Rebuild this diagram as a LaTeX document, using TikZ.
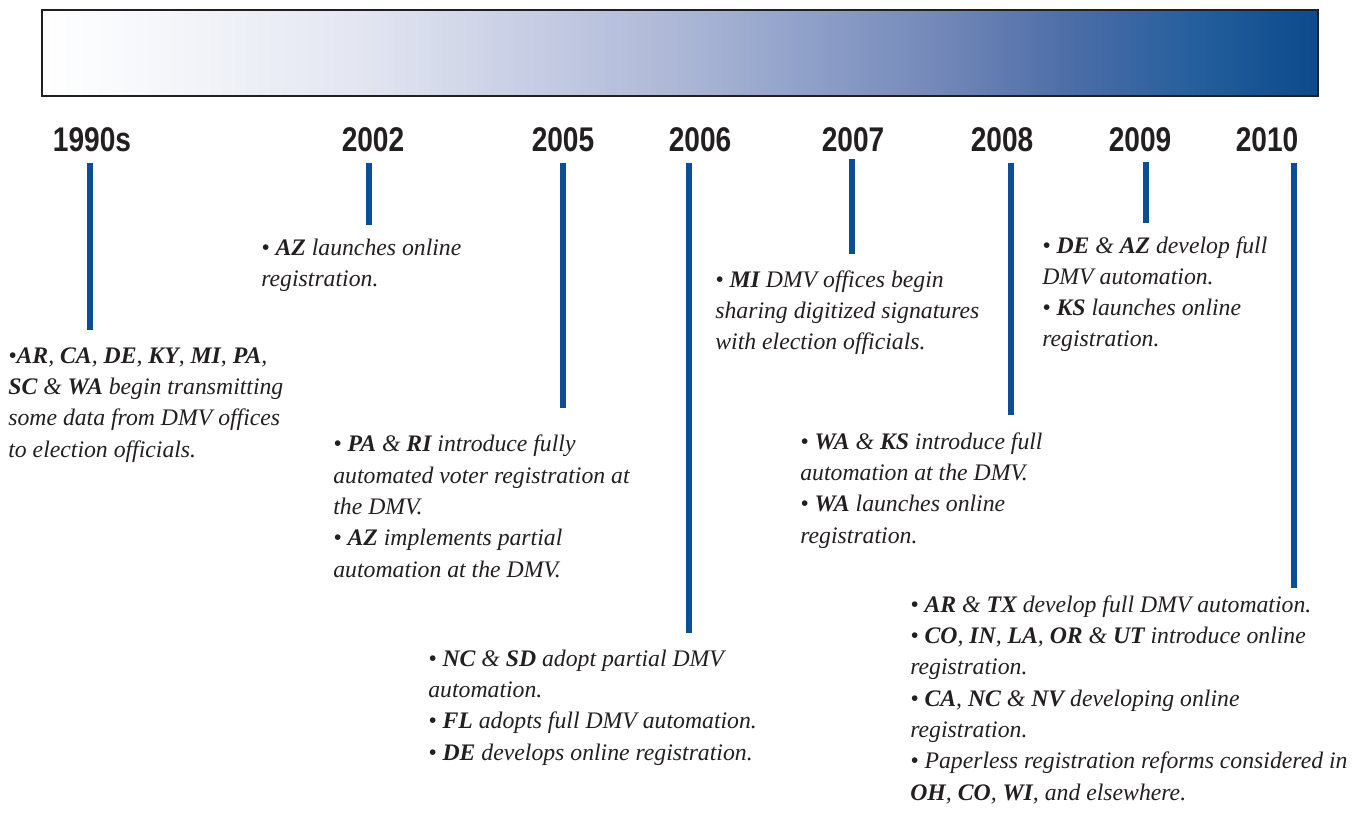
\documentclass[tikz,border=0pt]{standalone}
\usepackage{fontspec}
\setmainfont{Liberation Serif}
\newfontfamily\yearfont[FakeStretch=0.82]{Liberation Sans}
\usetikzlibrary{positioning}
\definecolor{barblue}{RGB}{11,74,140}
\definecolor{barA}{RGB}{250,251,253}
\definecolor{barB}{RGB}{227,230,241}
\definecolor{barC}{RGB}{195,202,226}
\definecolor{barD}{RGB}{172,183,214}
\definecolor{barE}{RGB}{143,160,201}
\definecolor{barF}{RGB}{116,137,185}
\definecolor{barG}{RGB}{79,110,168}
\definecolor{barH}{RGB}{38,95,157}
\definecolor{tickblue}{RGB}{10,78,152}
\definecolor{inkgray}{RGB}{35,31,32}
\pgfdeclarehorizontalshading{barshade}{100bp}{color(0bp)=(white); color(25bp)=(white);
    color(27.5bp)=(barA); color(37.5bp)=(barB); color(45bp)=(barC); color(50bp)=(barD);
    color(55bp)=(barE); color(60bp)=(barF); color(65bp)=(barG); color(70bp)=(barH);
    color(75bp)=(barblue); color(100bp)=(barblue)}
\newcommand{\sn}[1]{\textbf{#1}}

\begin{document}
\begin{tikzpicture}[x=0.02cm,y=-0.02cm,
    year/.style={font=\yearfont\bfseries\fontsize{19.5}{20}\selectfont, text=inkgray, inner sep=0pt},
    tick/.style={draw=tickblue, line width=2.9pt},
    note/.style={font=\itshape\fontsize{13.5}{17.8}\selectfont, text=inkgray, align=left, inner sep=0pt, anchor=base west}]
    \useasboundingbox (0,0) rectangle (1352,817);
    % gradient bar
    \shade[shading=barshade] (42,10) rectangle (1318,96);
    \draw[inkgray, line width=1.2pt] (42,10) rectangle (1318,96);
    % years
    \node[year] (y1990) at (92,140) {1990s};
    \node[year] (y2002) at (373,140) {2002};
    \node[year] (y2005) at (563,140) {2005};
    \node[year] (y2006) at (700,140) {2006};
    \node[year] (y2007) at (853,140) {2007};
    \node[year] (y2008) at (1002,140) {2008};
    \node[year] (y2009) at (1140,140) {2009};
    \node[year] (y2010) at (1267,140) {2010};
    % ticks
    \foreach \x/\a/\b in {90/163/330, 369/163/225, 563/163/408, 689/163/633,
        852/159/254, 1011/163/415, 1146/162/223, 1294/163/588}
        \draw[tick] (\x,\a) -- (\x,\b);
    % notes (placed at the baseline of their last line)
    \node[note] (n1990) at (8,457) {•\sn{AR}, \sn{CA}, \sn{DE}, \sn{KY}, \sn{MI}, \sn{PA},\\
        \sn{SC} \& \sn{WA} begin transmitting\\
        some data from DMV offices\\
        to election officials.};
    \node[note] (n2002) at (261,287) {• \sn{AZ} launches online\\
        registration.};
    \node[note] (n2005) at (333,577) {• \sn{PA} \& \sn{RI} introduce fully\\
        automated voter registration at\\
        the DMV.\\
        • \sn{AZ} implements partial\\
        automation at the DMV.};
    \node[note] (n2006) at (428,760) {• \sn{NC} \& \sn{SD} adopt partial DMV\\
        automation.\\
        • \sn{FL} adopts full DMV automation.\\
        • \sn{DE} develops online registration.};
    \node[note] (n2007) at (715,350) {• \sn{MI} DMV offices begin\\
        sharing digitized signatures\\
        with election officials.};
    \node[note] (n2008) at (800,543) {• \sn{WA} \& \sn{KS} introduce full\\
        automation at the DMV.\\
        • \sn{WA} launches online\\
        registration.};
    \node[note] (n2009) at (1042,347) {• \sn{DE} \& \sn{AZ} develop full\\
        DMV automation.\\
        • \sn{KS} launches online\\
        registration.};
    \node[note] (n2010) at (910,800) {• \sn{AR} \& \sn{TX} develop full DMV automation.\\
        • \sn{CO}, \sn{IN}, \sn{LA}, \sn{OR} \& \sn{UT} introduce online\\
        registration.\\
        • \sn{CA}, \sn{NC} \& \sn{NV} developing online\\
        registration.\\
        • Paperless registration reforms considered in\\
        \sn{OH}, \sn{CO}, \sn{WI}, and elsewhere.};
\end{tikzpicture}
\end{document}
